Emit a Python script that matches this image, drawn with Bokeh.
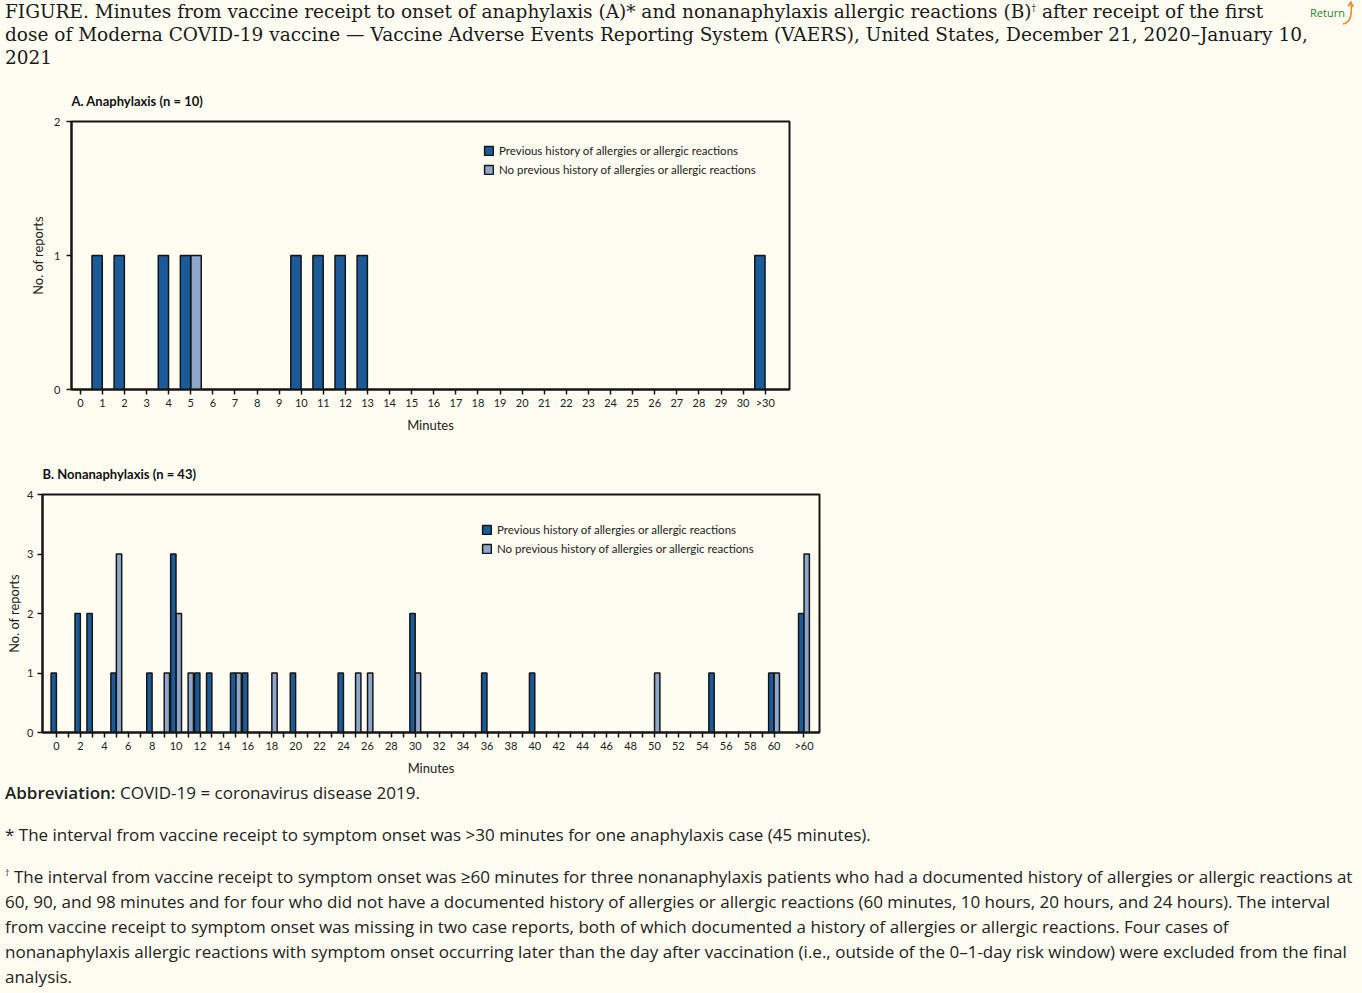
from bokeh.plotting import figure
from bokeh.models import FixedTicker, Legend, LegendItem, Div, ColumnDataSource, Range1d
from bokeh.layouts import column
from bokeh.embed import file_html
from bokeh.resources import INLINE

BG = "#fffdf1"
DARK = "#1c5b99"
LIGHT = "#8ea8cd"
EDGE = "#151515"
CHART_FONT = "Lato"

# ---------------- data ----------------
# Panel A: Anaphylaxis (n = 10)
a_tick_labels = [str(m) for m in range(31)] + [">30"]
a_prev_minutes = ["1", "2", "4", "5", "10", "11", "12", "13", ">30"]
a_prev_counts = [1, 1, 1, 1, 1, 1, 1, 1, 1]
a_noprev_minutes = ["5"]
a_noprev_counts = [1]

# Panel B: Nonanaphylaxis (n = 43)
b_tick_labels = [str(m) for m in range(0, 61, 2)] + [">60"]
b_prev_minutes = ["0", "2", "3", "5", "8", "10", "12", "13", "15", "16", "20", "24",
                  "30", "36", "40", "55", "60", ">60"]
b_prev_counts = [1, 2, 2, 1, 1, 3, 1, 1, 1, 1, 1, 1, 2, 1, 1, 1, 1, 2]
b_noprev_minutes = ["5", "9", "10", "11", "15", "18", "25", "26", "30", "50", "60", ">60"]
b_noprev_counts = [3, 1, 2, 1, 1, 1, 1, 1, 1, 1, 1, 3]

legend_labels = ["Previous history of allergies or allergic reactions",
                 "No previous history of allergies or allergic reactions"]


def make_panel(title, width, height, mb, xr, ymax, prev_m, prev_c, nop_m, nop_c,
               over_pos, over_label, major, minor, bar_w, leg_loc, ylab_standoff,
               ytick_standoff, title_standoff):
    def pos(lbl):
        return over_pos if lbl.startswith(">") else float(lbl)

    p = figure(width=width, height=height, x_range=Range1d(*xr), y_range=Range1d(0, ymax),
               output_backend="svg", toolbar_location=None,
               min_border_left=mb[0], min_border_right=mb[1],
               min_border_top=mb[2], min_border_bottom=mb[3],
               background_fill_color=BG, border_fill_color=BG, title=title)
    p.title.text_font = CHART_FONT
    p.title.text_font_style = "bold"
    p.title.text_font_size = "13px"
    p.title.text_color = "#111111"
    p.title.align = "left"
    p.title.offset = 0
    p.title.standoff = title_standoff

    src_p = ColumnDataSource(dict(x=[pos(m) - bar_w / 2 for m in prev_m], top=prev_c))
    src_n = ColumnDataSource(dict(x=[pos(m) + bar_w / 2 for m in nop_m], top=nop_c))
    r1 = p.vbar(x="x", top="top", width=bar_w * 0.97, source=src_p, fill_color=DARK,
                line_color=EDGE, line_width=1.5)
    r2 = p.vbar(x="x", top="top", width=bar_w * 0.97, source=src_n, fill_color=LIGHT,
                line_color=EDGE, line_width=1.5)

    p.xgrid.visible = False
    p.ygrid.visible = False
    p.outline_line_color = EDGE
    p.outline_line_width = 2
    p.outline_line_alpha = 1

    xa = p.xaxis[0]
    xa.ticker = FixedTicker(ticks=major, minor_ticks=minor)
    xa.major_label_overrides = {over_pos: over_label}
    xa.axis_line_width = 2
    xa.axis_line_color = EDGE
    xa.major_tick_in = 0
    xa.major_tick_out = 5
    xa.minor_tick_in = 0
    xa.minor_tick_out = 5
    xa.major_tick_line_width = 1.5
    xa.minor_tick_line_width = 1.5
    xa.major_tick_line_color = EDGE
    xa.minor_tick_line_color = EDGE
    xa.major_label_text_font = CHART_FONT
    xa.major_label_text_font_size = "11px"
    xa.major_label_text_color = "#222222"
    xa.major_label_standoff = 1
    xa.axis_label = "Minutes"
    xa.axis_label_text_font = CHART_FONT
    xa.axis_label_text_font_style = "normal"
    xa.axis_label_text_font_size = "13px"
    xa.axis_label_text_color = "#222222"
    xa.axis_label_standoff = 5

    ya = p.yaxis[0]
    ya.ticker = FixedTicker(ticks=list(range(ymax + 1)))
    ya.axis_line_width = 2
    ya.axis_line_color = EDGE
    ya.major_tick_in = 0
    ya.major_tick_out = 5
    ya.minor_tick_out = 0
    ya.major_tick_line_width = 1.5
    ya.major_tick_line_color = EDGE
    ya.major_label_text_font = CHART_FONT
    ya.major_label_text_font_size = "11px"
    ya.major_label_text_color = "#222222"
    ya.major_label_standoff = ytick_standoff
    ya.axis_label = "No. of reports"
    ya.axis_label_text_font = CHART_FONT
    ya.axis_label_text_font_style = "normal"
    ya.axis_label_text_font_size = "12.8px"
    ya.axis_label_text_color = "#222222"
    ya.axis_label_standoff = ylab_standoff

    leg = Legend(items=[LegendItem(label=legend_labels[0], renderers=[r1]),
                        LegendItem(label=legend_labels[1], renderers=[r2])],
                 location=leg_loc, orientation="vertical",
                 glyph_width=11, glyph_height=11, label_height=11, label_width=10,
                 spacing=6, padding=0, margin=0, label_standoff=5,
                 border_line_alpha=0, background_fill_alpha=0,
                 label_text_font=CHART_FONT, label_text_font_size="11.5px",
                 label_text_color="#222222")
    p.add_layout(leg)
    return p


pA = make_panel("A. Anaphylaxis (n = 10)", 800, 375, (71, 8, 51, 56), (-0.4, 32.1), 2,
                a_prev_minutes, a_prev_counts, a_noprev_minutes, a_noprev_counts,
                31, ">30", list(range(31)) + [31], [], 0.48, (412, 213), 5, 6, 25)

# panel B frame is aligned to panel A's frame by the column; shift it back with a margin
pB = make_panel("B. Nonanaphylaxis (n = 43)", 859, 335, (42, 11, 49, 48), (-1.17, 63.8), 4,
                b_prev_minutes, b_prev_counts, b_noprev_minutes, b_noprev_counts,
                62.5, ">60", list(range(0, 61, 2)) + [62.5], list(range(1, 60, 2)), 0.46,
                (439, 177), 2, 4, 26)
pB.margin = (0, 0, 0, -29)

title_html = """
<div style="position:relative;width:1362px;height:70px;background:#fffdf1;">
<div style="position:absolute;left:5px;top:0px;font-family:'DejaVu Serif';font-size:18.5px;line-height:23px;color:#1a1a1a;white-space:nowrap;">
FIGURE. Minutes from vaccine receipt to onset of anaphylaxis (A)* and nonanaphylaxis allergic reactions (B)<sup style="font-size:9px;line-height:0">&dagger;</sup> after receipt of the first<br>
dose of Moderna COVID-19 vaccine &mdash; Vaccine Adverse Events Reporting System (VAERS), United States, December 21, 2020&ndash;January 10,<br>
2021</div>
<div style="position:absolute;left:1310px;top:5px;font-family:'Open Sans';font-size:11px;color:#2e7d32;">Return</div>
<svg style="position:absolute;left:1340px;top:0px" width="16" height="26"><path d="M3 24 Q13 22 11 4" stroke="#f08a24" stroke-width="1.6" fill="none"/><path d="M8 6 L11 2 L13 7" stroke="#f08a24" stroke-width="1.6" fill="none"/></svg>
</div>
"""

foot_html = """
<div style="font-family:'Open Sans';font-size:17px;line-height:25px;color:#222;padding-left:5px;white-space:nowrap;background:#fffdf1;width:1357px;">
<div style="margin:0 0 17px 0;"><b style="font-weight:600">Abbreviation:</b> COVID-19 = coronavirus disease 2019.</div>
<div style="margin:0 0 17px 0;">* The interval from vaccine receipt to symptom onset was &gt;30 minutes for one anaphylaxis case (45 minutes).</div>
<div><sup style="font-size:9px;line-height:0">&dagger;</sup> The interval from vaccine receipt to symptom onset was &ge;60 minutes for three nonanaphylaxis patients who had a documented history of allergies or allergic reactions at<br>
60, 90, and 98 minutes and for four who did not have a documented history of allergies or allergic reactions (60 minutes, 10 hours, 20 hours, and 24 hours). The interval<br>
from vaccine receipt to symptom onset was missing in two case reports, both of which documented a history of allergies or allergic reactions. Four cases of<br>
nonanaphylaxis allergic reactions with symptom onset occurring later than the day after vaccination (i.e., outside of the 0&ndash;1-day risk window) were excluded from the final<br>
analysis.</div>
</div>
"""

title_div = Div(text=title_html, width=1362, height=70, margin=0)
foot_div = Div(text=foot_html, width=1362, height=210, margin=0)

layout = column(title_div, pA, pB, foot_div, spacing=0, margin=0,
                styles={"background-color": BG})

html = file_html(layout, INLINE, title="VAERS Moderna figure")
html = html.replace("<body>", '<body style="background:#fffdf1;">')
open("out.html", "w").write(html)
